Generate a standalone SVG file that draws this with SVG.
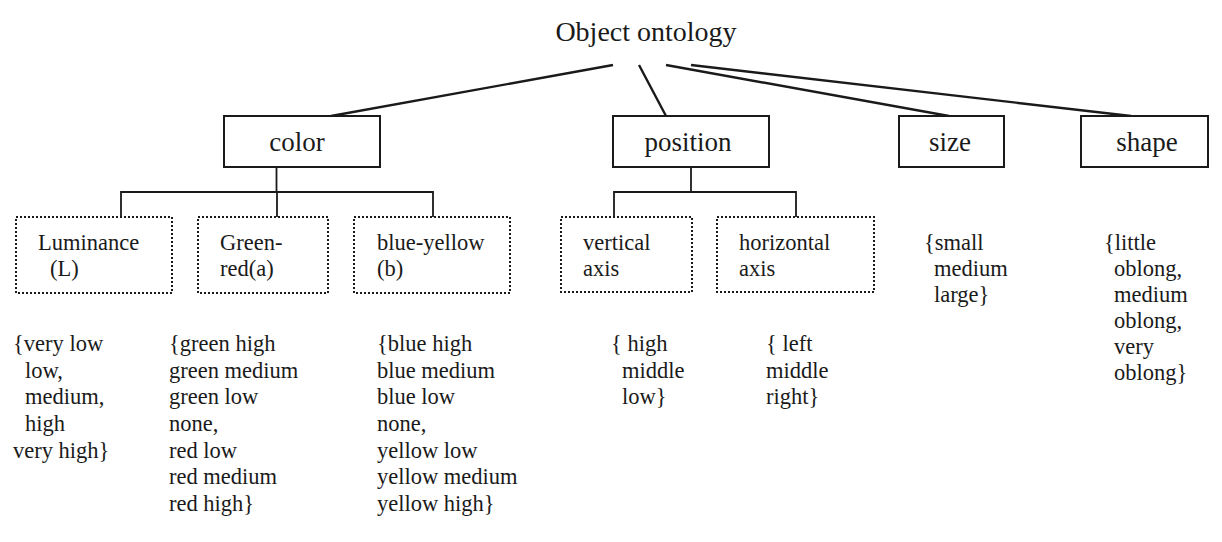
<svg xmlns="http://www.w3.org/2000/svg" width="1222" height="542" viewBox="0 0 1222 542">
<style>
text{font-family:"Liberation Serif","Times New Roman",serif;fill:#1a1a1a}
.t{font-size:28px}
.lab{font-size:27px;text-anchor:middle}
.s{font-size:22.5px}
.box{fill:#fff;stroke:#1a1a1a;stroke-width:2}
.dot{fill:none;stroke:#1a1a1a;stroke-width:2;stroke-dasharray:2 2}
.ln{fill:none;stroke:#1a1a1a;stroke-width:2.4}
.tr{fill:none;stroke:#1a1a1a;stroke-width:1.8}
</style>
<rect width="1222" height="542" fill="#fff"/>
<g id="connectors">
<line class="ln" x1="613" y1="65" x2="331" y2="116"/>
<line class="ln" x1="639" y1="65" x2="666" y2="116"/>
<line class="ln" x1="666" y1="65" x2="949" y2="116"/>
<line class="ln" x1="691" y1="65" x2="1131" y2="116"/>
<polyline class="tr" points="276.5,167 276.5,192"/>
<polyline class="tr" points="121,217 121,192 433,192 433,217"/>
<line class="tr" x1="277" y1="192" x2="277" y2="217"/>
<polyline class="tr" points="691,167 691,192"/>
<polyline class="tr" points="614,217 614,192 796,192 796,217"/>
</g>
<g id="root"><text class="t" x="646" y="41" text-anchor="middle">Object ontology</text></g>
<g id="color"><rect class="box" x="224" y="116" width="156" height="51"/><text class="lab" x="297" y="151">color</text></g>
<g id="position"><rect class="box" x="613" y="116" width="156" height="51"/><text class="lab" x="688" y="151">position</text></g>
<g id="size"><rect class="box" x="899" y="116" width="105" height="51"/><text class="lab" x="950" y="151">size</text></g>
<g id="shape"><rect class="box" x="1081" y="116" width="127" height="51"/><text class="lab" x="1147" y="151">shape</text></g>
<g id="luminance"><rect class="dot" x="16" y="217" width="156" height="76"/><text class="s" x="38" y="250">Luminance</text><text class="s" x="50" y="276">(L)</text></g>
<g id="greenred"><rect class="dot" x="198" y="217" width="130" height="76"/><text class="s" x="220" y="250">Green-</text><text class="s" x="220" y="276">red(a)</text></g>
<g id="blueyellow"><rect class="dot" x="354" y="217" width="156" height="76"/><text class="s" x="377" y="250">blue-yellow</text><text class="s" x="377" y="276">(b)</text></g>
<g id="vertical"><rect class="dot" x="561" y="217" width="131" height="75"/><text class="s" x="583" y="250">vertical</text><text class="s" x="583" y="276">axis</text></g>
<g id="horizontal"><rect class="dot" x="717" y="217" width="157" height="75"/><text class="s" x="739" y="250">horizontal</text><text class="s" x="739" y="276">axis</text></g>
<g id="lum-values">
<text class="s" x="13" y="351">{very low</text>
<text class="s" x="25" y="377.7">low,</text>
<text class="s" x="25" y="404.3">medium,</text>
<text class="s" x="25" y="431">high</text>
<text class="s" x="13" y="457.7">very high}</text>
</g>
<g id="gr-values">
<text class="s" x="169" y="351">{green high</text>
<text class="s" x="169" y="377.7">green medium</text>
<text class="s" x="169" y="404.3">green low</text>
<text class="s" x="169" y="431">none,</text>
<text class="s" x="169" y="457.7">red low</text>
<text class="s" x="169" y="484.3">red medium</text>
<text class="s" x="169" y="511">red high}</text>
</g>
<g id="by-values">
<text class="s" x="377" y="351">{blue high</text>
<text class="s" x="377" y="377.7">blue medium</text>
<text class="s" x="377" y="404.3">blue low</text>
<text class="s" x="377" y="431">none,</text>
<text class="s" x="377" y="457.7">yellow low</text>
<text class="s" x="377" y="484.3">yellow medium</text>
<text class="s" x="377" y="511">yellow high}</text>
</g>
<g id="v-values">
<text class="s" x="611" y="351">{ high</text>
<text class="s" x="622" y="377.7">middle</text>
<text class="s" x="622" y="404.3">low}</text>
</g>
<g id="h-values">
<text class="s" x="766" y="351">{ left</text>
<text class="s" x="766" y="377.7">middle</text>
<text class="s" x="766" y="404.3">right}</text>
</g>
<g id="size-values">
<text class="s" x="924" y="250">{small</text>
<text class="s" x="934" y="276">medium</text>
<text class="s" x="934" y="302">large}</text>
</g>
<g id="shape-values">
<text class="s" x="1104" y="250">{little</text>
<text class="s" x="1114" y="276">oblong,</text>
<text class="s" x="1114" y="302">medium</text>
<text class="s" x="1114" y="328">oblong,</text>
<text class="s" x="1114" y="354">very</text>
<text class="s" x="1114" y="380">oblong}</text>
</g>
</svg>
